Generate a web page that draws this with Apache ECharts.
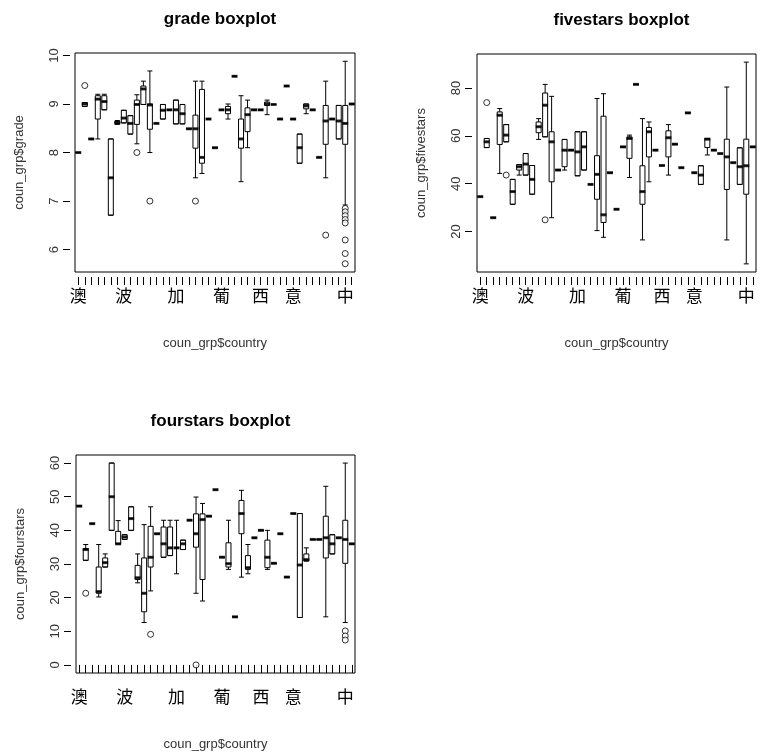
<!DOCTYPE html>
<html><head><meta charset="utf-8">
<script src="https://cdn.jsdelivr.net/npm/echarts@6/dist/echarts.min.js"></script>
<style>html,body{margin:0;background:#fff}#main{width:776px;height:755px}</style>
</head><body><div id="main"></div>
<script>
var countryLabels = ['澳','','','','','','','波','','','','','','','','加','','','','','','','葡','','','','','','西','','','','','意','','','','','','','','中',''];

// [min, q1, median, q3, max]
var gradeBoxes = [
 [8,8,8,8,8],[8.95,8.95,9.0,9.03,9.03],[8.28,8.28,8.28,8.28,8.28],[8.28,8.69,9.1,9.17,9.2],[8.88,8.88,9.05,9.17,9.2],
 [6.71,6.71,7.48,8.28,8.28],[8.58,8.6,8.61,8.64,8.66],[8.61,8.61,8.71,8.87,8.87],[8.38,8.38,8.6,8.76,8.76],[8.18,8.58,8.99,9.08,9.19],
 [8.99,8.99,9.31,9.37,9.47],[8.0,8.48,8.98,9.0,9.68],[8.6,8.6,8.6,8.6,8.6],[8.69,8.69,8.87,8.99,8.99],[8.88,8.88,8.88,8.88,8.88],
 [8.59,8.59,8.88,9.08,9.08],[8.59,8.59,8.8,8.99,8.99],[8.49,8.49,8.49,8.49,8.49],[7.48,8.09,8.49,8.77,9.47],[7.57,7.78,7.9,9.3,9.47],
 [8.69,8.69,8.69,8.69,8.69],[8.1,8.1,8.1,8.1,8.1],[8.88,8.88,8.88,8.88,8.88],[8.69,8.8,8.88,8.95,9.0],[9.57,9.57,9.57,9.57,9.57],
 [7.4,8.09,8.28,8.69,9.17],[8.1,8.43,8.78,8.92,9.08],[8.88,8.88,8.88,8.88,8.88],[8.88,8.88,8.88,8.88,8.88],[8.78,8.97,9.0,9.04,9.08],
 [8.99,8.99,8.99,8.99,8.99],[8.69,8.69,8.69,8.69,8.69],[9.37,9.37,9.37,9.37,9.37],[8.69,8.69,8.69,8.69,8.69],[7.78,7.78,8.1,8.38,8.38],
 [8.8,8.9,8.96,9.0,9.0],[8.88,8.88,8.88,8.88,8.88],[7.9,7.9,7.9,7.9,7.9],[7.48,8.17,8.65,8.97,9.47],[8.69,8.69,8.69,8.69,8.69],
 [8.28,8.28,8.65,8.97,8.97],[6.92,8.17,8.6,8.97,9.88],[9.0,9.0,9.0,9.0,9.0]
];
var gradeOutliers = [[1,9.38],[9,8.0],[11,7.0],[18,7.0],[38,6.3],[41,6.85],[41,6.78],[41,6.7],[41,6.62],[41,6.55],[41,6.2],[41,5.92],[41,5.71]];

var fiveBoxes = [
 [34.6,34.6,34.6,34.6,34.6],[55.1,55.1,57.5,58.9,58.9],[25.8,25.8,25.8,25.8,25.8],[44.3,56.4,68.6,70,71.4],[57.5,57.5,60.3,64.7,64.7],
 [31.4,31.4,36.7,41.8,41.8],[43.6,45.7,47.1,48,48],[43.6,43.6,48.2,52.6,52.6],[35.6,35.6,41.8,47.6,47.6],[58.5,61.3,63.8,65.8,67.2],
 [59.6,59.6,72.8,77.9,81.5],[25.8,40.8,57.5,61.7,76.5],[45.7,45.7,45.7,45.7,45.7],[45.7,47.1,54,58.5,58.5],[54,54,54,54,54],
 [43.3,43.3,53.3,61.7,61.7],[45.7,45.7,55.4,61.7,61.7],[39.7,39.7,39.7,39.7,39.7],[20.4,33.5,43.9,51.7,75.6],[17.6,23.8,27,68.2,77.6],
 [44.6,44.6,44.6,44.6,44.6],[29.3,29.3,29.3,29.3,29.3],[55.4,55.4,55.4,55.4,55.4],[42.6,50.6,58.9,59.6,60.3],[81.5,81.5,81.5,81.5,81.5],
 [16.5,31.4,36.7,47.5,67.2],[40.8,51.2,61.7,63.5,65.8],[54,54,54,54,54],[47.6,47.6,47.6,47.6,47.6],[43.6,51.2,59.2,62.1,64.7],
 [56.5,56.5,56.5,56.5,56.5],[46.7,46.7,46.7,46.7,46.7],[69.6,69.6,69.6,69.6,69.6],[44.6,44.6,44.6,44.6,44.6],[39.7,39.7,43.6,47.5,47.5],
 [52,55.1,58.6,58.9,58.9],[54,54,54,54,54],[52.6,52.6,52.6,52.6,52.6],[16.5,37.6,51.2,58.6,80.4],[48.8,48.8,48.8,48.8,48.8],
 [39.7,39.7,47.1,55,55],[6.5,35.6,47.5,58.6,90.8],[55.4,55.4,55.4,55.4,55.4]
];
var fiveOutliers = [[1,73.9],[4,43.6],[10,24.9]];

var fourBoxes = [
 [47.2,47.2,47.2,47.2,47.2],[31.1,31.1,34.3,34.6,35.8],[42,42,42,42,42],[20.2,21.3,21.8,29.1,35.8],[29.1,29.1,30.4,31.8,33],
 [40,40,50,60,60],[36,36,36,39.7,42.9],[37.3,37.3,38,38.7,38.7],[40,40,43.5,47,47],[24.4,25.4,25.9,29.6,33],
 [12.6,15.8,21.3,31.8,41.7],[22,29.1,32,41.2,47],[39,39,39,39,39],[32,32,36,41,43],[32.5,32.5,34.8,41,43],
 [27.1,34.8,34.8,34.8,43],[34.3,34.3,36,37.1,37.1],[43,43,43,43,43],[21.3,35,39,44.9,49.9],[19,25.4,43.2,44.9,48],
 [44.2,44.2,44.2,44.2,44.2],[52.1,52.1,52.1,52.1,52.1],[32,32,32,32,32],[28.4,29.1,30.1,36.3,43],[14.3,14.3,14.3,14.3,14.3],
 [26.1,39,45,48.9,51.9],[27.1,28.4,28.9,32.5,35.8],[37.8,37.8,37.8,37.8,37.8],[40,40,40,40,40],[28.4,28.9,32,37.1,40],
 [30.2,30.2,30.2,30.2,30.2],[39,39,39,39,39],[26.1,26.1,26.1,26.1,26.1],[45,45,45,45,45],[14.1,14.1,29.7,45,45],
 [30.9,30.9,31.3,33,34.8],[37.3,37.3,37.3,37.3,37.3],[37.3,37.3,37.3,37.3,37.3],[14.3,31.8,37.8,44.2,53.1],[33,33,36,38.7,38.7],
 [37.8,37.8,37.8,37.8,37.8],[12.6,30.2,37.3,43,60],[36,36,36,36,36]
];
var fourOutliers = [[1,21.3],[11,9.1],[18,0],[41,10.1],[41,8.6],[41,7.4]];

var gradeTicks = [6,7,8,9,10];
var fiveTicks = [20,40,60,80];
var fourTicks = [0,10,20,30,40,50,60];

var panels = [
 {title:'grade boxplot', yName:'coun_grp$grade', boxes:gradeBoxes, out:gradeOutliers, ticks:gradeTicks, min:5.54, max:10.05,
  grid:{left:75, top:53, width:280, height:219}},
 {title:'fivestars boxplot', yName:'coun_grp$fivestars', boxes:fiveBoxes, out:fiveOutliers, ticks:fiveTicks, min:3.1, max:94.2,
  grid:{left:477, top:54, width:279, height:218}},
 {title:'fourstars boxplot', yName:'coun_grp$fourstars', boxes:fourBoxes, out:fourOutliers, ticks:fourTicks, min:-2.4, max:62.4,
  grid:{left:76, top:455, width:279, height:218}}
];

var cats = countryLabels.map(function (_, i) { return 'c' + i; });
var grids = [], xAxes = [], yAxes = [], titles = [], series = [];
panels.forEach(function (p, k) {
  var g = p.grid;
  grids.push({left:g.left, top:g.top, width:g.width, height:g.height, show:true, borderColor:'#000', borderWidth:1, backgroundColor:'transparent'});
  titles.push({text:p.title, left:g.left + g.width/2, top:g.top - 47, textAlign:'center',
    textStyle:{fontFamily:'Liberation Sans', fontWeight:'bold', fontSize:17, color:'#000'}});
  xAxes.push({type:'category', gridIndex:k, data:cats, offset:5, boundaryGap:true,
    axisLine:{show:false}, splitLine:{show:false},
    axisTick:{show:true, interval:0, alignWithLabel:true, length:8, lineStyle:{color:'#000'}},
    axisLabel:{interval:0, margin:10, fontSize:17, color:'#000', fontFamily:'Noto Sans CJK SC',
      formatter:function (v, i) { return countryLabels[i]; }},
    name:'coun_grp$country', nameLocation:'middle', nameGap:60,
    nameTextStyle:{fontFamily:'Liberation Sans', fontSize:13, color:'#333'}});
  yAxes.push({type:'value', gridIndex:k, min:p.min, max:p.max, offset:5,
    axisLine:{show:false}, splitLine:{show:false},
    axisTick:{show:true, length:7, customValues:p.ticks, lineStyle:{color:'#000'}},
    axisLabel:{rotate:90, margin:9, fontSize:13, color:'#333', fontFamily:'Liberation Sans', customValues:p.ticks},
    name:p.yName, nameLocation:'middle', nameGap:44, nameRotate:90,
    nameTextStyle:{fontFamily:'Liberation Sans', fontSize:13, color:'#333'}});
  series.push({type:'boxplot', xAxisIndex:k, yAxisIndex:k, data:p.boxes, boxWidth:[5,5],
    itemStyle:{color:'#fff', borderColor:'#000', borderWidth:1}, silent:true});
  series.push({type:'scatter', xAxisIndex:k, yAxisIndex:k, symbol:'rect', symbolSize:[6,3], silent:true,
    itemStyle:{color:'#000'}, data:p.boxes.map(function (b, i) { return [i, b[2]]; })});
  series.push({type:'scatter', xAxisIndex:k, yAxisIndex:k, symbol:'circle', symbolSize:6, silent:true,
    itemStyle:{color:'#fff', borderColor:'#000', borderWidth:1}, data:p.out});
});

var myChart = echarts.init(document.getElementById('main'));
myChart.setOption({animation:false, title:titles, grid:grids, xAxis:xAxes, yAxis:yAxes, series:series});
</script></body></html>
